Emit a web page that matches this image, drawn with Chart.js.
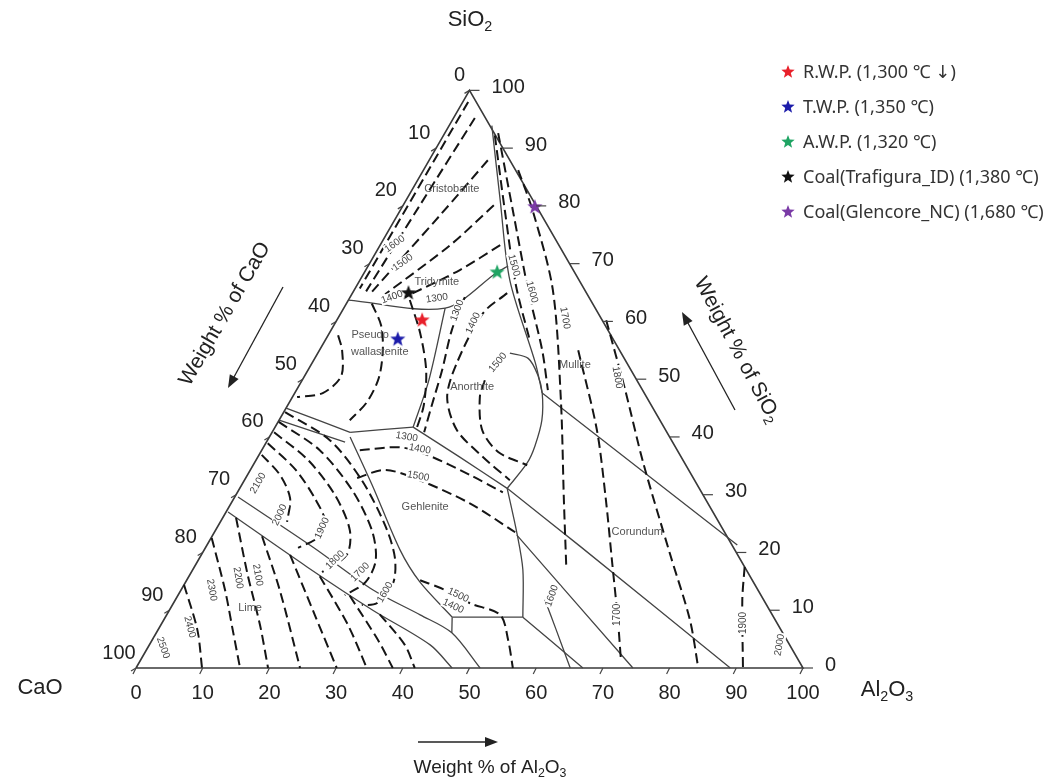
<!DOCTYPE html>
<html>
<head>
<meta charset="utf-8">
<script src="https://cdn.jsdelivr.net/npm/chart.js@4.4.0/dist/chart.umd.min.js"></script>
<style>
  html, body { margin: 0; padding: 0; background: #fff; }
  canvas { display: block; }
</style>
</head>
<body>
<canvas id="diagrama" width="1064" height="782"></canvas>
<script>
// Todas as composições em [Al2O3 %, SiO2 %]; CaO = 100 - Al2O3 - SiO2
const marcas = [0, 10, 20, 30, 40, 50, 60, 70, 80, 90, 100];

const triangulo = [[0, 0], [100, 0], [0, 100], [0, 0]];

// amostras (estrelas)
const amostras = ["R.W.P. (1,300 \u2103 \u2193)", "T.W.P. (1,350 \u2103)", "A.W.P. (1,320 \u2103)",
  "Coal(Trafigura_ID) (1,380 \u2103)", "Coal(Glencore_NC) (1,680 \u2103)"];
const amostraAl2O3 = [12.8, 10.8, 19.9, 8.4, 19.9];
const amostraSiO2 = [60.2, 56.9, 68.5, 64.9, 79.8];

// fronteiras de campo (linhas cheias)
const cristobaliteMulite = [[6.4, 93.9], [14.1, 81.0], [22.5, 67.1], [33.4, 52.9], [37.1, 47.6]];
const muliteCorindon = [[37.1, 47.6], [79.5, 21.3]];
const anortiteMulite = [[28.8, 54.5], [32.0, 53.6], [34.9, 50.7], [37.1, 47.6], [39.4, 42.9], [40.6, 38.4], [40.9, 35.5], [40.1, 31.1]];
const tridimite = [[0, 63.7], [15.2, 62.3], [19.9, 68.5], [21.0, 69.6]];
const pseudoAnortite = [[15.2, 62.3], [19.0, 49.8], [20.7, 41.7]];
const pseudoBase = [[11.7, 40.8], [20.7, 41.7]];
const gehlAnortite = [[20.7, 41.7], [30.3, 36.5], [40.1, 31.1]];
const rankinite1 = [[0, 45.0], [11.7, 40.8]];
const rankinite2 = [[0, 42.9], [11.8, 39.1]];
const c2sGehlenite = [[12.1, 40.0], [19.9, 31.3], [29.4, 20.4], [35.1, 14.9], [43.0, 8.8]];
const gehlBase = [[43.0, 8.8], [53.6, 8.8]];
const gehlCA2 = [[40.1, 31.1], [45.4, 23.4], [49.5, 17.0], [53.6, 8.8]];
const corindonCA6 = [[40.1, 31.1], [56.0, 21.1], [89.1, 0]];
const ca6CA2 = [[45.6, 23.0], [74.5, 0]];
const ca2CA = [[53.6, 8.8], [67.0, 0]];
const curva1600 = [[55.4, 11.8], [59.7, 6.6], [65.1, 0]];
const gehlPequena = [[43.0, 8.8], [44.3, 6.1]];
const calSuperior = [[0.5, 29.6], [16.1, 20.9], [28.8, 13.5], [38.0, 9.2], [44.3, 6.1], [51.6, 0]];
const calInferior = [[0.3, 27.0], [16.9, 17.5], [30.5, 10.0], [42.1, 4.0], [47.4, 0]];

// isotermas (tracejadas)
const cris1 = [[0.8, 98], [0.7, 65.7]];
const cris2 = [[3.2, 95.2], [2.5, 80], [1.9, 65.2]];
const cris3 = [[8.8, 87.9], [6.4, 78.4], [2.8, 65.1]];
const cris4 = [[13.6, 80.1], [10.5, 73.2], [5.0, 64.7]];
const cris5 = [[18.0, 73.2], [14.1, 68.9], [8.2, 64.2]];
const pseudo1 = [[3.8, 63.1], [7.1, 59.3], [9.5, 55.0], [11.3, 50.2], [11.6, 46.0], [10.6, 42.9]];
const pseudo2 = [[1.5, 57.6], [3.4, 55.0], [5.5, 50.5], [4.2, 47.6], [0.7, 46.9]];
const pseudo3 = [[9.2, 63.7], [13.6, 58.0], [17.7, 51.6], [20.4, 45.5], [21.4, 41.2]];
const anor1300 = [[17.2, 64.2], [18.1, 58.5], [20.1, 51.6], [21.6, 45.5], [22.8, 40.8]];
const anor1400 = [[23.2, 64.9], [21.3, 61.4], [21.7, 52.8], [23.2, 46.9], [27.5, 41.2], [33.8, 36.5], [39.8, 32.5]];
const anor1500 = [[27.4, 49.8], [28.1, 46.9], [31.3, 41.2], [35.6, 37.4], [41.1, 35.1]];
const gehl1400 = [[14.7, 37.7], [20.5, 38.2], [25.2, 36.9], [33.4, 33.4], [39.8, 30.4]];
const gehl1500 = [[16.7, 32.9], [20.2, 34.3], [26.3, 32.5], [35.8, 28.5], [45.1, 23.5]];
const gehlBaixa = [[35.0, 15.2], [39.6, 13.5], [44.5, 11.2], [50.0, 9.2], [53.4, 4.8], [56.5, 0]];
const c2s1600 = [[0.2, 44.3], [9.4, 39.4], [17.6, 32.5], [25.0, 24.7], [29.2, 19.2], [31.2, 14.7], [30.5, 11.2], [28.4, 10.9]];
const c2s1700 = [[0.1, 42.6], [8.7, 37.7], [17.0, 30.8], [23.4, 23.9], [26.6, 18.7], [27.0, 14.9], [25.0, 12.6]];
const c2s1800 = [[0.3, 40.8], [7.8, 36.0], [14.9, 29.9], [20.1, 23.9], [21.8, 19.6], [19.6, 16.6]];
const c2s1900 = [[0.3, 38.9], [6.8, 34.3], [12.4, 29.1], [15.7, 25.3], [15.9, 22.5], [13.9, 20.8]];
const c2s2000 = [[0.4, 36.9], [4.9, 33.4], [8.4, 29.4], [10.0, 25.3]];
const cal2400 = [[0.0, 14.4], [5.9, 6.6], [9.9, 0]];
const cal2300 = [[0.1, 22.5], [6.6, 13.5], [11.2, 6.6], [15.6, 0]];
const cal2200 = [[2.0, 26.0], [8.7, 16.1], [14.9, 7.4], [19.8, 0]];
const cal2100 = [[7.5, 22.8], [14.8, 13.5], [24.6, 0]];
const cal5 = [[13.3, 19.6], [22.2, 9.2], [30.1, 0]];
const cal6 = [[19.6, 15.9], [28.1, 7.4], [34.6, 0]];
const cal7 = [[25.8, 12.5], [33.9, 4.8], [38.5, 0]];
const cal8 = [[31.9, 9.3], [38.3, 4.0], [41.8, 0]];
const mul1500 = [[7.7, 92.2], [15.7, 79.2], [23.8, 66.3], [30.7, 56.7]];
const mul1600 = [[8.0, 92.6], [17.1, 78.9], [26.1, 65.4], [33.4, 55.0], [37.7, 48.1]];
const mul1700 = [[14.2, 86.2], [20.1, 78.9], [29.8, 65.4], [40.5, 46.4], [49.6, 29.1], [55.6, 17.8]];
const cor1700 = [[38.8, 55.0], [48.5, 41.2], [55.9, 29.1], [62.0, 18.7], [68.1, 8.3], [72.0, 1.4]];
const cor1800 = [[40.4, 60.2], [49.3, 48.1], [58.3, 35.5], [70.3, 19.6], [78.9, 8.3], [84.3, 0]];
const cor1900 = [[82.5, 17.5], [85.0, 11.8], [91.0, 0]];

const solidas = [cristobaliteMulite, muliteCorindon, anortiteMulite, tridimite, pseudoAnortite, pseudoBase,
  gehlAnortite, rankinite1, rankinite2, c2sGehlenite, gehlBase, gehlCA2, corindonCA6, ca6CA2, ca2CA,
  curva1600, gehlPequena, calSuperior, calInferior];
const tracejadas = [cris1, cris2, cris3, cris4, cris5, pseudo1, pseudo2, pseudo3, anor1300, anor1400, anor1500,
  gehl1400, gehl1500, gehlBaixa, c2s1600, c2s1700, c2s1800, c2s1900, c2s2000, cal2400, cal2300, cal2200,
  cal2100, cal5, cal6, cal7, cal8, mul1500, mul1600, mul1700, cor1700, cor1800, cor1900];

// nomes dos campos e rótulos das isotermas: [texto, Al2O3, SiO2]
const campos = [["Cristobalite", 5.9, 82.9], ["Tridymite", 11.7, 66.8], ["Pseudo", 6.3, 57.6],
  ["wallastenite", 9.2, 54.7], ["Anorthite", 26.1, 48.6], ["Mullite", 39.6, 52.4],
  ["Gehlenite", 29.4, 27.9], ["Corundum", 63.4, 23.5], ["Lime", 11.9, 10.4]];
const isotermas = [["1600", 2.1, 73.4, -35], ["1500", 4.9, 70.2, -35], ["1400", 6.3, 64.2, -20],
  ["1300", 13.1, 64.0, -8], ["1300", 17.2, 61.9, -70], ["1400", 20.7, 59.7, -65], ["1500", 27.8, 52.9, -50],
  ["1500", 21.8, 69.7, 75], ["1600", 26.8, 65.1, 75], ["1700", 34.0, 60.6, 80], ["1800", 47.0, 50.3, 80],
  ["1700", 67.5, 9.2, -90], ["1900", 87.1, 7.8, -90], ["2000", 94.5, 4.0, -80], ["1600", 56.1, 12.5, -70],
  ["1500", 42.0, 12.6, 25], ["1400", 42.2, 10.7, 25], ["1300", 20.6, 40.0, 10], ["1400", 23.6, 37.9, 10],
  ["1500", 25.7, 33.2, 10], ["2100", 2.3, 32.0, -60], ["2000", 8.3, 26.5, -65], ["1900", 15.8, 24.2, -65],
  ["1800", 20.5, 18.7, -45], ["1700", 25.3, 16.6, -45], ["1600", 30.8, 13.1, -60], ["2300", 4.6, 13.5, 80],
  ["2200", 7.5, 15.6, 80], ["2100", 10.2, 16.1, 80], ["2400", 4.5, 7.1, 75], ["2500", 2.3, 3.5, 70]];

const coresAmostras = ["#e8202a", "#1c1caa", "#1fa463", "#111111", "#7a3aa6"];
const R3 = Math.sqrt(3) / 2;

function paraXY(p) {
  return { x: p[0] + p[1] / 2, y: p[1] * R3 };
}

function estrela(cor, r) {
  const c = document.createElement("canvas");
  c.width = c.height = 2 * r + 2;
  const g = c.getContext("2d");
  g.beginPath();
  for (let i = 0; i < 10; i++) {
    const ang = -Math.PI / 2 + i * Math.PI / 5;
    const rr = i % 2 ? r * 0.42 : r;
    g.lineTo(r + 1 + rr * Math.cos(ang), r + 1 + rr * Math.sin(ang));
  }
  g.closePath();
  g.fillStyle = cor;
  g.fill();
  return c;
}

// texto com índices (ex.: Al2O3)
function textoQuim(ctx, partes, x, y, tam, alinh) {
  const fonte = t => t + "px 'Liberation Sans', Arial, sans-serif";
  let larg = 0;
  partes.forEach(([t, sub]) => { ctx.font = fonte(sub ? tam * 0.65 : tam); larg += ctx.measureText(t).width; });
  let cx = alinh === "center" ? x - larg / 2 : x;
  ctx.textAlign = "left";
  ctx.textBaseline = "middle";
  partes.forEach(([t, sub]) => {
    ctx.font = fonte(sub ? tam * 0.65 : tam);
    ctx.fillText(t, cx, sub ? y + tam * 0.3 : y);
    cx += ctx.measureText(t).width;
  });
}

function seta(ctx, x1, y1, x2, y2) {
  const ang = Math.atan2(y2 - y1, x2 - x1);
  ctx.beginPath();
  ctx.moveTo(x1, y1);
  ctx.lineTo(x2 - 8 * Math.cos(ang), y2 - 8 * Math.sin(ang));
  ctx.stroke();
  ctx.beginPath();
  ctx.moveTo(x2, y2);
  ctx.lineTo(x2 - 13 * Math.cos(ang) + 5 * Math.sin(ang), y2 - 13 * Math.sin(ang) - 5 * Math.cos(ang));
  ctx.lineTo(x2 - 13 * Math.cos(ang) - 5 * Math.sin(ang), y2 - 13 * Math.sin(ang) + 5 * Math.cos(ang));
  ctx.closePath();
  ctx.fill();
}

const nAmostras = amostras.length;

const rotulos = {
  id: "rotulos",
  beforeDatasetDraw(chart, args) {
    if (args.index !== nAmostras - 1) return;
    const ctx = chart.ctx;
    const sx = chart.scales.x, sy = chart.scales.y;
    const px = p => { const q = paraXY(p); return [sx.getPixelForValue(q.x), sy.getPixelForValue(q.y)]; };
    ctx.save();
    ctx.textAlign = "center";
    ctx.textBaseline = "middle";
    // isotermas
    ctx.font = "10px 'Liberation Sans', Arial, sans-serif";
    isotermas.forEach(([t, a, s, ang]) => {
      const [x, y] = px([a, s]);
      ctx.save();
      ctx.translate(x, y);
      ctx.rotate(ang * Math.PI / 180);
      const w = ctx.measureText(t).width;
      ctx.fillStyle = "#fff";
      ctx.fillRect(-w / 2 - 1, -5, w + 2, 10);
      ctx.fillStyle = "#444";
      ctx.fillText(t, 0, 0);
      ctx.restore();
    });
    // campos
    ctx.font = "11px 'Liberation Sans', Arial, sans-serif";
    ctx.fillStyle = "#555";
    campos.forEach(([t, a, s]) => {
      const [x, y] = px([a, s]);
      ctx.fillText(t, x, y);
    });
    ctx.restore();
  },
  afterDraw(chart) {
    const ctx = chart.ctx;
    const sx = chart.scales.x, sy = chart.scales.y;
    const px = p => { const q = paraXY(p); return [sx.getPixelForValue(q.x), sy.getPixelForValue(q.y)]; };
    ctx.save();
    ctx.strokeStyle = "#444";
    ctx.fillStyle = "#222";
    ctx.lineWidth = 1.2;
    ctx.font = "20px 'Liberation Sans', Arial, sans-serif";
    ctx.textBaseline = "middle";
    marcas.forEach(v => {
      // Al2O3 (base)
      let [x, y] = px([v, 0]);
      ctx.beginPath(); ctx.moveTo(x, y); ctx.lineTo(x - 3, y + 6); ctx.stroke();
      ctx.textAlign = "center";
      ctx.fillText(String(v), x, y + 25);
      // CaO (lado esquerdo)
      [x, y] = px([0, 100 - v]);
      ctx.beginPath(); ctx.moveTo(x, y); ctx.lineTo(x - 5, y + 3); ctx.stroke();
      ctx.fillText(String(v), v === 0 ? x - 10 : x - 17, y - 15);
      // SiO2 (lado direito)
      [x, y] = px([100 - v, v]);
      ctx.beginPath(); ctx.moveTo(x, y); ctx.lineTo(x + 10, y); ctx.stroke();
      ctx.textAlign = "left";
      ctx.fillText(String(v), x + 22, y - 3);
    });

    // vértices
    ctx.fillStyle = "#222";
    textoQuim(ctx, [["SiO", 0], ["2", 1]], 470, 20, 22, "center");
    textoQuim(ctx, [["CaO", 0]], 40, 688, 22, "center");
    textoQuim(ctx, [["Al", 0], ["2", 1], ["O", 0], ["3", 1]], 887, 690, 22, "center");

    // títulos dos eixos
    textoQuim(ctx, [["Weight % of Al", 0], ["2", 1], ["O", 0], ["3", 1]], 490, 768, 19, "center");
    ctx.save();
    ctx.translate(225, 314);
    ctx.rotate(-60 * Math.PI / 180);
    textoQuim(ctx, [["Weight % of CaO", 0]], 0, 0, 21, "center");
    ctx.restore();
    ctx.save();
    ctx.translate(737, 350);
    ctx.rotate(62 * Math.PI / 180);
    textoQuim(ctx, [["Weight % of SiO", 0], ["2", 1]], 0, 0, 21, "center");
    ctx.restore();

    ctx.strokeStyle = "#222";
    ctx.lineWidth = 1.3;
    seta(ctx, 283, 287, 228, 388);
    seta(ctx, 735, 410, 682, 312);
    seta(ctx, 418, 742, 498, 742);

    // legenda
    const linhas = [72, 107, 142, 177, 212];
    ctx.font = "18px 'Noto Sans', 'DejaVu Sans', sans-serif";
    ctx.textAlign = "left";
    ctx.fillStyle = "#333";
    amostras.forEach((t, i) => {
      const img = estrela(coresAmostras[i], 7);
      ctx.drawImage(img, 788 - img.width / 2, linhas[i] - img.height / 2);
      ctx.fillText(t, 803, linhas[i] + 1);
    });
    ctx.restore();
  }
};

const datasets = [];
amostras.forEach((nome, i) => {
  datasets.push({
    label: nome,
    data: [paraXY([amostraAl2O3[i], amostraSiO2[i]])],
    pointStyle: estrela(coresAmostras[i], 8),
    pointRadius: 8,
    showLine: false
  });
});
tracejadas.forEach(l => datasets.push({
  data: l.map(paraXY), showLine: true, borderColor: "#151515", borderWidth: 2,
  borderDash: [10, 5], pointRadius: 0, tension: 0.3, fill: false
}));
solidas.forEach(l => datasets.push({
  data: l.map(paraXY), showLine: true, borderColor: "#444", borderWidth: 1.3,
  pointRadius: 0, tension: 0.3, fill: false
}));
datasets.push({
  data: triangulo.map(paraXY), showLine: true, borderColor: "#3a3a3a", borderWidth: 1.6,
  pointRadius: 0, tension: 0, fill: false
});

// escala: 6.67 px por unidade, vértice CaO em (136, 668)
const pxUn = 6.67;
new Chart(document.getElementById("diagrama").getContext("2d"), {
  type: "scatter",
  data: { datasets },
  options: {
    responsive: false,
    animation: false,
    layout: { padding: 0, autoPadding: false },
    plugins: { legend: { display: false }, tooltip: { enabled: false } },
    scales: {
      x: { type: "linear", display: false, min: -136 / pxUn, max: (1064 - 136) / pxUn },
      y: { type: "linear", display: false, min: -(782 - 668) / pxUn, max: 668 / pxUn }
    }
  },
  plugins: [rotulos]
});
</script>
</body>
</html>
